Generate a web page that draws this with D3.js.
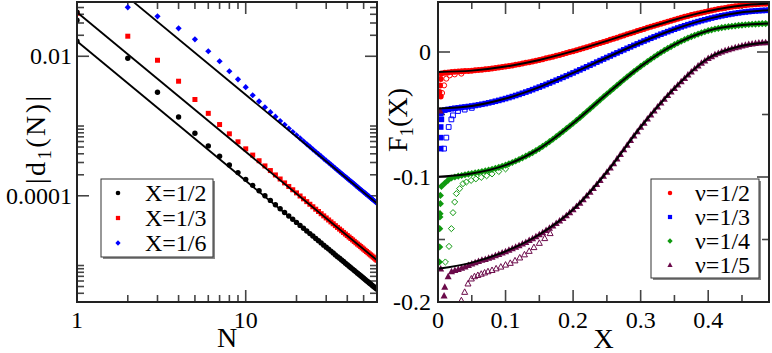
<!DOCTYPE html>
<html><head><meta charset="utf-8">
<script src="https://cdn.jsdelivr.net/npm/d3@7"></script>
<style>
body{margin:0;background:#fff}
svg{display:block}
</style>
</head><body>
<svg id="c" width="772" height="353"></svg>
<script>
// ---------------- LEFT PANEL DATA ----------------
const nValues = [1,2,3,4,5,6,7,8,9,10,11,12,13,14,15,16,17,18,19,20,21,22,23,24,25,26,27,28,29,30,
 31,32,33,34,35,36,37,38,39,40,41,42,43,44,45,46,47,48,49,50,51,52,53,54,55,56,57,58,59,60];
const dHalf = [3.28e-2,9.36e-3,3.05e-3,1.345e-3,7.87e-4,5.19e-4,3.69e-4,2.76e-4,2.15e-4,1.72e-4,
 1.41e-4,1.179e-4,9.99e-5,8.58e-5,7.45e-5,6.53e-5,5.77e-5,5.14e-5,4.61e-5,4.15e-5,
 3.76e-5,3.42e-5,3.13e-5,2.87e-5,2.65e-5,2.44e-5,2.27e-5,2.11e-5,1.96e-5,1.83e-5,
 1.72e-5,1.61e-5,1.51e-5,1.42e-5,1.34e-5,1.27e-5,1.20e-5,1.14e-5,1.08e-5,1.03e-5,
 9.78e-6,9.32e-6,8.89e-6,8.49e-6,8.12e-6,7.77e-6,7.44e-6,7.13e-6,6.84e-6,6.57e-6,
 6.31e-6,6.07e-6,5.85e-6,5.63e-6,5.43e-6,5.24e-6,5.06e-6,4.88e-6,4.72e-6,4.56e-6];
const dThird = [4.13e-2,1.94e-2,8.77e-3,4.39e-3,2.40e-3,1.52e-3,1.05e-3,7.73e-4,5.94e-4,4.71e-4,
 3.83e-4,3.18e-4,2.68e-4,2.30e-4,1.99e-4,1.74e-4,1.53e-4,1.36e-4,1.22e-4,1.10e-4,
 9.93e-5,9.03e-5,8.24e-5,7.56e-5,6.96e-5,6.42e-5,5.95e-5,5.53e-5,5.15e-5,4.81e-5,
 4.50e-5,4.22e-5,3.97e-5,3.73e-5,3.52e-5,3.33e-5,3.15e-5,2.98e-5,2.83e-5,2.69e-5,
 2.56e-5,2.44e-5,2.33e-5,2.22e-5,2.12e-5,2.03e-5,1.95e-5,1.87e-5,1.79e-5,1.72e-5,
 1.65e-5,1.59e-5,1.53e-5,1.47e-5,1.42e-5,1.37e-5,1.32e-5,1.28e-5,1.23e-5,1.19e-5];
const dSixth = [null,5.04e-2,3.74e-2,2.52e-2,1.75e-2,1.18e-2,8.48e-3,6.10e-3,4.67e-3,3.60e-3,
 2.76e-3,2.26e-3,1.86e-3,1.58e-3,1.36e-3,1.18e-3,1.04e-3,9.21e-4,8.21e-4,7.38e-4,
 6.66e-4,6.05e-4,5.51e-4,5.05e-4,4.64e-4,4.28e-4,3.96e-4,3.68e-4,3.42e-4,3.19e-4,
 2.99e-4,2.80e-4,2.63e-4,2.47e-4,2.33e-4,2.20e-4,2.08e-4,1.97e-4,1.87e-4,1.78e-4,
 1.69e-4,1.61e-4,1.54e-4,1.47e-4,1.40e-4,1.34e-4,1.28e-4,1.23e-4,1.18e-4,1.13e-4,
 1.09e-4,1.05e-4,1.01e-4,9.70e-5,9.35e-5,9.02e-5,8.70e-5,8.40e-5,8.12e-5,7.85e-5];
// fitted power-law lines: values at N=1 and N=60
const fitN = [1, 60];
const fitStart = [0.0164, 0.0428, 0.281];
const fitEnd = [4.56e-6, 1.19e-5, 7.8e-5];
const leftLabels = ["X=1/2","X=1/3","X=1/6"];
const leftXTicks = [1,10], leftXTickLabels = ["1","10"];
const leftXMinor = [2,3,4,5,6,7,8,9,20,30,40,50];
const leftYTicks = [0.01,0.0001], leftYTickLabels = ["0.01","0.0001"];
const leftYMinor = [0.02,0.03,0.04,0.05,0.001,0.0009,0.0008,0.0007,0.0006,0.0005,0.0004,0.0003,0.0002,
 0.00001,0.000009,0.000008,0.000007,0.000006,0.000005,0.000004];

// ---------------- RIGHT PANEL DATA ----------------
const xFine = [0.005,0.01,0.015,0.02,0.025,0.03,0.035,0.04,0.045,0.05,0.055,0.06,0.065,0.07,0.075,0.08,0.085,0.09,0.095,0.1,
 0.105,0.11,0.115,0.12,0.125,0.13,0.135,0.14,0.145,0.15,0.155,0.16,0.165,0.17,0.175,0.18,0.185,0.19,0.195,0.2,
 0.205,0.21,0.215,0.22,0.225,0.23,0.235,0.24,0.245,0.25,0.255,0.26,0.265,0.27,0.275,0.28,0.285,0.29,0.295,0.3,
 0.305,0.31,0.315,0.32,0.325,0.33,0.335,0.34,0.345,0.35,0.355,0.36,0.365,0.37,0.375,0.38,0.385,0.39,0.395,0.4,
 0.405,0.41,0.415,0.42,0.425,0.43,0.435,0.44,0.445,0.45,0.455,0.46,0.465,0.47,0.475,0.48,0.485,0.49];
const fHalf = [-0.0172,-0.0166,-0.0163,-0.0160,-0.0158,-0.0156,-0.01545,-0.01529,-0.0151,-0.0149,
 -0.01466,-0.01442,-0.01414,-0.01385,-0.01352,-0.01319,-0.01282,-0.01245,-0.01204,-0.01163,
 -0.01118,-0.01073,-0.01024,-0.00975,-0.00922,-0.00869,-0.00812,-0.00755,-0.00695,-0.00634,
 -0.0057,-0.00506,-0.00439,-0.00372,-0.00302,-0.00231,-0.00158,-0.00085,-0.00009,0.00067,
 0.00146,0.00224,0.00305,0.00385,0.00468,0.00551,0.00635,0.00719,0.00805,0.0089,
 0.00977,0.01063,0.0115,0.01237,0.01325,0.01412,0.015,0.01587,0.01674,0.01761,
 0.01847,0.01933,0.02018,0.02102,0.02185,0.02268,0.02349,0.0243,0.02509,0.02587,
 0.02663,0.02738,0.02811,0.02883,0.02952,0.0302,0.03085,0.0315,0.0321,0.0327,
 0.03326,0.03382,0.03433,0.03483,0.03529,0.03574,0.03614,0.03654,0.03688,0.03722,
 0.0375,0.03778,0.03801,0.03823,0.03839,0.03855,0.03865,0.03874];
const fThird = [-0.0478,-0.0465,-0.0459,-0.0454,-0.045,-0.0447,-0.04427,-0.04397,-0.0436,-0.04323,
 -0.04278,-0.04233,-0.04181,-0.04128,-0.04068,-0.04008,-0.03941,-0.03874,-0.038,-0.03726,
 -0.03646,-0.03565,-0.03479,-0.03392,-0.033,-0.03207,-0.0311,-0.03012,-0.0291,-0.02808,
 -0.02701,-0.02594,-0.02484,-0.02373,-0.02259,-0.02145,-0.02028,-0.01911,-0.01792,-0.01672,
 -0.01551,-0.01429,-0.01307,-0.01184,-0.0106,-0.00936,-0.00812,-0.00688,-0.00564,-0.0044,
 -0.00317,-0.00193,-0.00071,0.00051,0.00172,0.00293,0.00412,0.00531,0.00647,0.00763,
 0.00877,0.0099,0.011,0.0121,0.01317,0.01423,0.01526,0.01628,0.01726,0.01824,
 0.01918,0.02011,0.02099,0.02187,0.0227,0.02352,0.0243,0.02507,0.02578,0.02649,
 0.02715,0.0278,0.02839,0.02897,0.0295,0.03002,0.03048,0.03094,0.03133,0.03172,
 0.03204,0.03236,0.03261,0.03286,0.03304,0.03321,0.03332,0.03343];
const fQuarter = [-0.1075,-0.105,-0.1025,-0.1008,-0.1,-0.0993,-0.0988,-0.0982,-0.09765,-0.0972,
 -0.09672,-0.09623,-0.09569,-0.09514,-0.0945,-0.09386,-0.0931,-0.09234,-0.09143,-0.09052,
 -0.08946,-0.08839,-0.0872,-0.08601,-0.08469,-0.08337,-0.08191,-0.08045,-0.07885,-0.07724,
 -0.07547,-0.07369,-0.07175,-0.06981,-0.06774,-0.06567,-0.06352,-0.06137,-0.05919,-0.05701,
 -0.05476,-0.05251,-0.05016,-0.04781,-0.04542,-0.04302,-0.04063,-0.03824,-0.03592,-0.0336,
 -0.03131,-0.02902,-0.02674,-0.02445,-0.02221,-0.01996,-0.01779,-0.01562,-0.01358,-0.01153,
 -0.00959,-0.00765,-0.00579,-0.00393,-0.00217,-0.00041,0.00123,0.00287,0.00438,0.00588,
 0.00725,0.00862,0.00987,0.01111,0.01223,0.01335,0.01434,0.01533,0.01619,0.01704,
 0.01773,0.01841,0.01894,0.01946,0.01987,0.02027,0.02061,0.02094,0.02126,0.02157,
 0.02179,0.022,0.02219,0.02237,0.02251,0.02265,0.02273,0.0228];
const fFifth = [null,-0.188,-0.1795,-0.1755,-0.1745,-0.1738,-0.1728,-0.1718,-0.1706,-0.1694,
 -0.1683,-0.1674,-0.1663,-0.1658,-0.1647,-0.1639,-0.1627,-0.1617,-0.1606,-0.1595,
 -0.15835,-0.15719,-0.15597,-0.15474,-0.15341,-0.15208,-0.15064,-0.14919,-0.1476,-0.146,
 -0.14429,-0.14258,-0.14077,-0.13895,-0.13699,-0.13503,-0.13289,-0.13074,-0.12837,-0.126,
 -0.12337,-0.12074,-0.11788,-0.11501,-0.11196,-0.10891,-0.10573,-0.10254,-0.09927,-0.096,
 -0.09255,-0.0891,-0.08545,-0.08179,-0.07806,-0.07433,-0.07066,-0.06698,-0.06349,-0.06,
 -0.05669,-0.05337,-0.05014,-0.0469,-0.04378,-0.04066,-0.03767,-0.03467,-0.03184,-0.029,
 -0.02627,-0.02353,-0.02088,-0.01822,-0.01574,-0.01326,-0.01103,-0.00879,-0.0069,-0.005,
 -0.00351,-0.00201,-0.00086,0.00029,0.00119,0.00209,0.00285,0.0036,0.0043,0.005,
 0.0056,0.0062,0.00665,0.0071,0.00735,0.0076,0.0077,0.0078];
// fitted curves (black lines)
const fitX = [0,0.05,0.1,0.15,0.2,0.25,0.3,0.35,0.4,0.45,0.49];
const fitHalf = [-0.016,-0.0149,-0.01163,-0.00634,0.00067,0.0089,0.01761,0.02587,0.0327,0.03722,0.03874];
const fitThird = [-0.0453,-0.04323,-0.03726,-0.02808,-0.01672,-0.0044,0.00763,0.01824,0.02649,0.03172,0.03343];
const fitQuarter = [-0.0998,-0.0972,-0.09052,-0.07724,-0.05701,-0.0336,-0.01153,0.00588,0.01704,0.02157,0.0228];
const fitFifth = [-0.1735,-0.1685,-0.1595,-0.146,-0.126,-0.096,-0.06,-0.029,-0.005,0.005,0.0078];
// scattered filled points near X=0
const edgeHalfX = [0.004,0.003,0.002,0.004], edgeHalfY = [-0.0215,-0.0267,-0.032,-0.0355];
const edgeThirdX = [0.004,0.005,0.004,0.004,0.004], edgeThirdY = [-0.0493,-0.0539,-0.06,-0.0685,-0.0773];
const edgeQuarterX = [0.0035,0.0035,0.003,0.0028,0.0025,0.0025,0.002], edgeQuarterY = [-0.1147,-0.1213,-0.1293,-0.132,-0.1413,-0.156,-0.168];
const edgeFifthX = [0.003,0.004,0.009], edgeFifthY = [-0.047,-0.1733,-0.195];
// open symbols (second data set)
const openHalfX = [0.006,0.009,0.0123,0.0173,0.0247,0.0346], openHalfY = [-0.0328,-0.0267,-0.0213,-0.0187,-0.0179,-0.0173];
const openThirdX = [0.0089,0.0123,0.0158,0.0198,0.0222,0.0296,0.0395,0.05], openThirdY = [-0.0773,-0.0685,-0.06,-0.0539,-0.0507,-0.0472,-0.0461,-0.0447];
const openQuarterX = [0.0109,0.0163,0.0198,0.0222,0.0247,0.0272,0.0321,0.037,0.042,0.049,0.056,0.064,0.072,0.08,0.09,0.1];
const openQuarterY = [-0.168,-0.1555,-0.1413,-0.1285,-0.12,-0.1133,-0.1093,-0.1053,-0.104,-0.1027,-0.1015,-0.1003,-0.099,-0.0975,-0.0956,-0.0935];
const openFifthX = [0.0346,0.0395,0.0444,0.0494,0.054,0.059,0.064,0.069,0.074,0.08,0.086,0.093,0.1,0.107,0.114,0.121,0.128,0.135,0.142,0.15,0.158,0.166];
const openFifthY = [-0.1987,-0.192,-0.1853,-0.1813,-0.1795,-0.1785,-0.1775,-0.1765,-0.1755,-0.1745,-0.1732,-0.1718,-0.1702,-0.1688,-0.1668,-0.1645,-0.162,-0.1592,-0.1562,-0.1528,-0.149,-0.145];
const rightLabels = ["ν=1/2","ν=1/3","ν=1/4","ν=1/5"];
const rightXTicks = [0,0.1,0.2,0.3,0.4], rightXTickLabels = ["0","0.1","0.2","0.3","0.4"];
const rightXMinor = [0.05,0.15,0.25,0.35,0.45];
const rightYTicks = [0,-0.1,-0.2], rightYTickLabels = ["0","-0.1","-0.2"];
const rightYMinor = [-0.05,-0.15];

// ---------------- DRAWING ----------------
const FONT = "'Liberation Serif', 'Times New Roman', Tinos, 'Nimbus Roman', 'Noto Serif', 'DejaVu Serif', Times, serif";
const svg = d3.select("#c").style("font-family", FONT);
svg.append("rect").attr("width",772).attr("height",353).attr("fill","#fff");
const defs = svg.append("defs");
function txt(x,y,size,anchor){
  return svg.append("text").attr("x",x).attr("y",y).attr("font-size",size)
    .attr("text-anchor",anchor).style("font-family",FONT).attr("fill","#000");
}

function marker(type, s){
  if(type==="circle") return `M${s},0A${s},${s} 0 1,1 ${-s},0A${s},${s} 0 1,1 ${s},0Z`;
  if(type==="square") return `M${-s},${-s}H${s}V${s}H${-s}Z`;
  if(type==="diamond") return `M0,${-s}L${s},0L0,${s}L${-s},0Z`;
  return `M0,${-s}L${s*0.95},${s*0.75}L${-s*0.95},${s*0.75}Z`;
}

function drawTicks(g, sx, sy, box, xMaj, xMin, yMaj, yMin){
  const lm = 12, ln = 7;
  const seg = (x1,y1,x2,y2)=>g.append("line").attr("x1",x1).attr("y1",y1).attr("x2",x2).attr("y2",y2)
    .attr("stroke","#444").attr("stroke-width",1.6);
  xMaj.forEach(v=>{const x=sx(v); seg(x,box.y1,x,box.y1-lm); seg(x,box.y0,x,box.y0+lm);});
  xMin.forEach(v=>{const x=sx(v); seg(x,box.y1,x,box.y1-ln); seg(x,box.y0,x,box.y0+ln);});
  yMaj.forEach(v=>{const y=sy(v); seg(box.x0,y,box.x0+lm,y); seg(box.x1,y,box.x1-lm,y);});
  yMin.forEach(v=>{const y=sy(v); seg(box.x0,y,box.x0+ln,y); seg(box.x1,y,box.x1-ln,y);});
}

// ===== LEFT =====
const BL = {x0:77, x1:377, y0:2, y1:302};
const xL = d3.scaleLog().domain([1,60]).range([BL.x0,BL.x1]);
const yL = d3.scaleLog().domain([3e-6,0.06]).range([BL.y1,BL.y0]);
defs.append("clipPath").attr("id","clipL").append("rect")
  .attr("x",BL.x0).attr("y",BL.y0).attr("width",BL.x1-BL.x0).attr("height",BL.y1-BL.y0);

const gTL = svg.append("g");
drawTicks(gTL, xL, yL, BL, leftXTicks, leftXMinor, leftYTicks, leftYMinor);

const leftSeries = [
  {vals:dHalf, color:"#000000", type:"circle", s:2.7},
  {vals:dThird, color:"#ff0000", type:"square", s:2.5},
  {vals:dSixth, color:"#0000ff", type:"diamond", s:3.1}
];
const gL = svg.append("g").attr("clip-path","url(#clipL)");
leftSeries.forEach(s=>{
  const pts = nValues.map((n,i)=>({n, v:s.vals[i]})).filter(d=>d.v!=null);
  gL.append("g").selectAll("path").data(pts).enter().append("path")
    .attr("transform",d=>`translate(${xL(d.n)},${yL(d.v)})`)
    .attr("d",marker(s.type,s.s)).attr("fill",s.color);
});
fitStart.forEach((v0,i)=>{
  const pts = [{n:fitN[0], v:v0},{n:fitN[1], v:fitEnd[i]}];
  gL.append("path").datum(pts)
    .attr("d",d3.line().x(d=>xL(d.n)).y(d=>yL(d.v)))
    .attr("fill","none").attr("stroke","#000").attr("stroke-width",1.8);
  gL.append("path").attr("transform",`translate(${xL(fitN[0])},${yL(v0)})`)
    .attr("d",marker("circle",2.7)).attr("fill","#000");
});
svg.append("rect").attr("x",BL.x0).attr("y",BL.y0).attr("width",BL.x1-BL.x0).attr("height",BL.y1-BL.y0)
  .attr("fill","none").attr("stroke","#222").attr("stroke-width",2);

leftXTicks.forEach((v,i)=>txt(xL(v),328,24,"middle").text(leftXTickLabels[i]));
leftYTicks.forEach((v,i)=>txt(72,yL(v)+8,24,"end").text(leftYTickLabels[i]));
txt((BL.x0+BL.x1)/2,347,28,"middle").text("N");
const tl = svg.append("text").attr("transform","translate(45,140) rotate(-90)").attr("text-anchor","middle")
  .attr("font-size",28).style("font-family",FONT)
  .attr("textLength",88).attr("lengthAdjust","spacing");
tl.append("tspan").text("|d");
tl.append("tspan").attr("font-size",19).attr("dy",6).text("1");
tl.append("tspan").attr("dy",-6).text("(N)|");

// left legend
const LG = {x:101, y:179, w:112, h:78};
svg.append("rect").attr("x",LG.x+2).attr("y",LG.y+2).attr("width",LG.w).attr("height",LG.h).attr("fill","#888");
svg.append("rect").attr("x",LG.x).attr("y",LG.y).attr("width",LG.w).attr("height",LG.h).attr("fill","#fff")
  .attr("stroke","#333").attr("stroke-width",1);
leftSeries.forEach((s,i)=>{
  const cy = 193 + i*25;
  svg.append("path").attr("transform",`translate(118,${cy})`).attr("d",marker(s.type,s.s*0.85)).attr("fill",s.color);
  txt(145,cy+8,24,"start").text(leftLabels[i]);
});

// ===== RIGHT =====
const BR = {x0:438, x1:769, y0:2, y1:302};
const xR = d3.scaleLinear().domain([0,0.49]).range([BR.x0,BR.x1]);
const yR = d3.scaleLinear().domain([-0.2,0.04]).range([BR.y1,BR.y0]);
defs.append("clipPath").attr("id","clipR").append("rect")
  .attr("x",BR.x0).attr("y",BR.y0).attr("width",BR.x1-BR.x0).attr("height",BR.y1-BR.y0);
const gTR = svg.append("g");
drawTicks(gTR, xR, yR, BR, rightXTicks, rightXMinor, rightYTicks, rightYMinor);

const rightSeries = [
  {fine:fHalf, fit:fitHalf, ex:edgeHalfX, ey:edgeHalfY, ox:openHalfX, oy:openHalfY, color:"#ff0000", type:"circle", s:3.0},
  {fine:fThird, fit:fitThird, ex:edgeThirdX, ey:edgeThirdY, ox:openThirdX, oy:openThirdY, color:"#0000ff", type:"square", s:2.8},
  {fine:fQuarter, fit:fitQuarter, ex:edgeQuarterX, ey:edgeQuarterY, ox:openQuarterX, oy:openQuarterY, color:"#0f990f", type:"diamond", s:3.6},
  {fine:fFifth, fit:fitFifth, ex:edgeFifthX, ey:edgeFifthY, ox:openFifthX, oy:openFifthY, color:"#6b0a4a", type:"triangle", s:3.7}
];
const gR = svg.append("g").attr("clip-path","url(#clipR)");
rightSeries.forEach(s=>{
  const pts = xFine.map((x,i)=>({x, y:s.fine[i]})).filter(d=>d.y!=null)
    .concat(s.ex.map((x,i)=>({x, y:s.ey[i]})));
  gR.append("g").selectAll("path").data(pts).enter().append("path")
    .attr("transform",d=>`translate(${xR(d.x)},${yR(d.y)})`)
    .attr("d",marker(s.type,s.s)).attr("fill",s.color);
  const op = s.ox.map((x,i)=>({x, y:s.oy[i]}));
  gR.append("g").selectAll("path").data(op).enter().append("path")
    .attr("transform",d=>`translate(${xR(d.x)},${yR(d.y)})`)
    .attr("d",marker(s.type,s.s*0.85)).attr("fill","none").attr("stroke",s.color).attr("stroke-width",1);
});
rightSeries.forEach(s=>{
  const pts = fitX.map((x,i)=>({x, y:s.fit[i]}));
  gR.append("path").datum(pts)
    .attr("d",d3.line().x(d=>xR(d.x)).y(d=>yR(d.y)).curve(d3.curveMonotoneX))
    .attr("fill","none").attr("stroke","#000").attr("stroke-width",2);
});
svg.append("rect").attr("x",BR.x0).attr("y",BR.y0).attr("width",BR.x1-BR.x0).attr("height",BR.y1-BR.y0)
  .attr("fill","none").attr("stroke","#222").attr("stroke-width",2);

rightXTicks.forEach((v,i)=>txt(xR(v),328,24,"middle").text(rightXTickLabels[i]));
rightYTicks.forEach((v,i)=>txt(431,yR(v)+8,24,"end").text(rightYTickLabels[i]));
txt((BR.x0+BR.x1)/2,348,28,"middle").text("X");
const tr = svg.append("text").attr("transform","translate(407,120) rotate(-90)").attr("text-anchor","middle")
  .attr("font-size",28).style("font-family",FONT);
tr.append("tspan").text("F");
tr.append("tspan").attr("font-size",19).attr("dy",6).text("1");
tr.append("tspan").attr("dy",-6).text("(X)");

// right legend
const RG = {x:651, y:179, w:108, h:99};
svg.append("rect").attr("x",RG.x+2).attr("y",RG.y+2).attr("width",RG.w).attr("height",RG.h).attr("fill","#888");
svg.append("rect").attr("x",RG.x).attr("y",RG.y).attr("width",RG.w).attr("height",RG.h).attr("fill","#fff")
  .attr("stroke","#333").attr("stroke-width",1);
rightSeries.forEach((s,i)=>{
  const cy = 193 + i*24;
  svg.append("path").attr("transform",`translate(670,${cy})`).attr("d",marker(s.type,s.s*0.75)).attr("fill",s.color);
  txt(695,cy+8,24,"start").text(rightLabels[i]);
});
</script>
</body></html>
